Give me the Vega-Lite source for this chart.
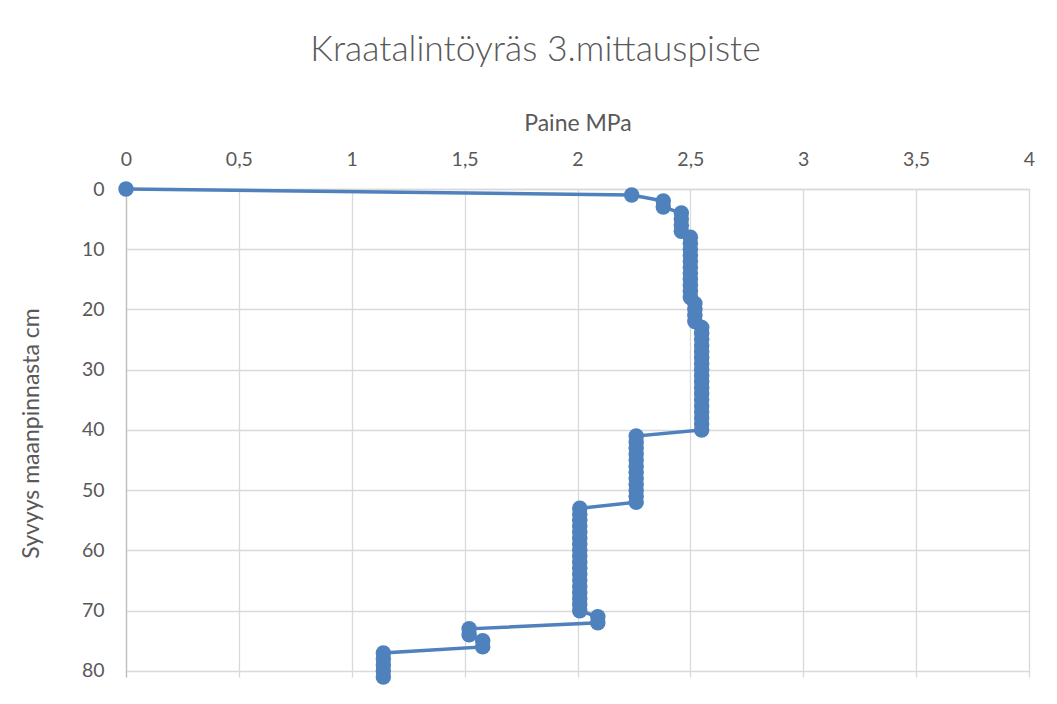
{
  "$schema": "https://vega.github.io/schema/vega-lite/v6.json",
  "width": 903,
  "height": 488,
  "autosize": {"type": "none"},
  "padding": {"left": 126, "top": 189, "right": 28, "bottom": 27},
  "background": "white",
  "title": {
    "text": "Kraatalintöyräs 3.mittauspiste",
    "font": "Lato",
    "fontSize": 35.5,
    "fontWeight": 300,
    "color": "#595959",
    "anchor": "middle",
    "dx": -42,
    "offset": 44
  },
  "config": {
    "view": {"stroke": null},
    "font": "Lato"
  },
  "data": {
    "values": [
      {"depth": 0, "paine": 0},
      {"depth": 1, "paine": 2.24},
      {"depth": 2, "paine": 2.38},
      {"depth": 3, "paine": 2.38},
      {"depth": 4, "paine": 2.46},
      {"depth": 5, "paine": 2.46},
      {"depth": 6, "paine": 2.46},
      {"depth": 7, "paine": 2.46},
      {"depth": 8, "paine": 2.5},
      {"depth": 9, "paine": 2.5},
      {"depth": 10, "paine": 2.5},
      {"depth": 11, "paine": 2.5},
      {"depth": 12, "paine": 2.5},
      {"depth": 13, "paine": 2.5},
      {"depth": 14, "paine": 2.5},
      {"depth": 15, "paine": 2.5},
      {"depth": 16, "paine": 2.5},
      {"depth": 17, "paine": 2.5},
      {"depth": 18, "paine": 2.5},
      {"depth": 19, "paine": 2.52},
      {"depth": 20, "paine": 2.52},
      {"depth": 21, "paine": 2.52},
      {"depth": 22, "paine": 2.52},
      {"depth": 23, "paine": 2.55},
      {"depth": 24, "paine": 2.55},
      {"depth": 25, "paine": 2.55},
      {"depth": 26, "paine": 2.55},
      {"depth": 27, "paine": 2.55},
      {"depth": 28, "paine": 2.55},
      {"depth": 29, "paine": 2.55},
      {"depth": 30, "paine": 2.55},
      {"depth": 31, "paine": 2.55},
      {"depth": 32, "paine": 2.55},
      {"depth": 33, "paine": 2.55},
      {"depth": 34, "paine": 2.55},
      {"depth": 35, "paine": 2.55},
      {"depth": 36, "paine": 2.55},
      {"depth": 37, "paine": 2.55},
      {"depth": 38, "paine": 2.55},
      {"depth": 39, "paine": 2.55},
      {"depth": 40, "paine": 2.55},
      {"depth": 41, "paine": 2.26},
      {"depth": 42, "paine": 2.26},
      {"depth": 43, "paine": 2.26},
      {"depth": 44, "paine": 2.26},
      {"depth": 45, "paine": 2.26},
      {"depth": 46, "paine": 2.26},
      {"depth": 47, "paine": 2.26},
      {"depth": 48, "paine": 2.26},
      {"depth": 49, "paine": 2.26},
      {"depth": 50, "paine": 2.26},
      {"depth": 51, "paine": 2.26},
      {"depth": 52, "paine": 2.26},
      {"depth": 53, "paine": 2.01},
      {"depth": 54, "paine": 2.01},
      {"depth": 55, "paine": 2.01},
      {"depth": 56, "paine": 2.01},
      {"depth": 57, "paine": 2.01},
      {"depth": 58, "paine": 2.01},
      {"depth": 59, "paine": 2.01},
      {"depth": 60, "paine": 2.01},
      {"depth": 61, "paine": 2.01},
      {"depth": 62, "paine": 2.01},
      {"depth": 63, "paine": 2.01},
      {"depth": 64, "paine": 2.01},
      {"depth": 65, "paine": 2.01},
      {"depth": 66, "paine": 2.01},
      {"depth": 67, "paine": 2.01},
      {"depth": 68, "paine": 2.01},
      {"depth": 69, "paine": 2.01},
      {"depth": 70, "paine": 2.01},
      {"depth": 71, "paine": 2.09},
      {"depth": 72, "paine": 2.09},
      {"depth": 73, "paine": 1.52},
      {"depth": 74, "paine": 1.52},
      {"depth": 75, "paine": 1.58},
      {"depth": 76, "paine": 1.58},
      {"depth": 77, "paine": 1.14},
      {"depth": 78, "paine": 1.14},
      {"depth": 79, "paine": 1.14},
      {"depth": 80, "paine": 1.14},
      {"depth": 81, "paine": 1.14}
    ]
  },
  "mark": {
    "type": "line",
    "color": "#4F81BD",
    "strokeWidth": 3.5,
    "point": {"filled": true, "size": 240, "color": "#4F81BD", "opacity": 1}
  },
  "encoding": {
    "x": {
      "field": "paine",
      "type": "quantitative",
      "scale": {"domain": [0, 4], "nice": false, "zero": false},
      "axis": {
        "orient": "top",
        "title": "Paine MPa",
        "values": [0, 0.5, 1, 1.5, 2, 2.5, 3, 3.5, 4],
        "labelExpr": "replace(toString(datum.value), '.', ',')",
        "labelFont": "Lato",
        "labelFontSize": 19.5,
        "labelFontWeight": 400,
        "labelColor": "#595959",
        "labelPadding": 20,
        "labelFlush": false,
        "ticks": false,
        "grid": true,
        "gridColor": "#D9D9D9",
        "gridWidth": 1.3,
        "domainColor": "#D9D9D9",
        "domainWidth": 1.3,
        "titleFont": "Lato",
        "titleFontSize": 23,
        "titleFontWeight": 400,
        "titleColor": "#595959",
        "titlePadding": 14
      }
    },
    "y": {
      "field": "depth",
      "type": "quantitative",
      "scale": {"domain": [0, 81], "nice": false, "reverse": true, "zero": false},
      "axis": {
        "title": "Syvyys maanpinnasta cm",
        "values": [0, 10, 20, 30, 40, 50, 60, 70, 80],
        "labelFont": "Lato",
        "labelFontSize": 19.5,
        "labelFontWeight": 400,
        "labelColor": "#595959",
        "labelPadding": 22,
        "labelFlush": false,
        "ticks": false,
        "grid": true,
        "gridColor": "#D9D9D9",
        "gridWidth": 1.3,
        "domainColor": "#BFBFBF",
        "domainWidth": 1.3,
        "titleFont": "Lato",
        "titleFontSize": 23,
        "titleFontWeight": 400,
        "titleColor": "#595959",
        "titlePadding": 38
      }
    },
    "order": {"field": "depth", "type": "quantitative"}
  }
}
